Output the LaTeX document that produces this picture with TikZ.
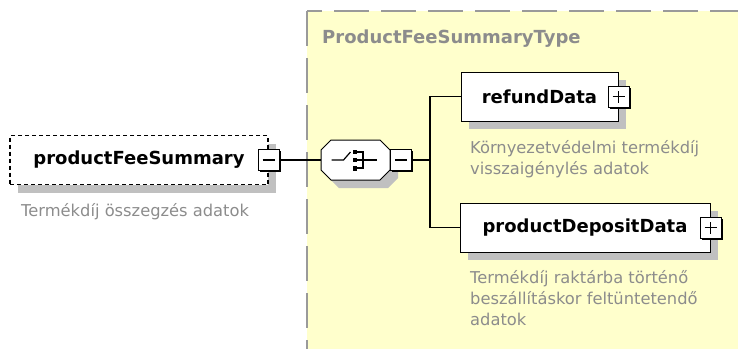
\documentclass[tikz,border=0pt]{standalone}
\usepackage{fontspec}
\setmainfont{DejaVu Sans}
\usetikzlibrary{positioning,shadows}

\definecolor{typefill}{HTML}{FFFFCC}
\definecolor{typeline}{HTML}{9A9A9A}
\definecolor{shadowgray}{HTML}{C0C0C0}
\definecolor{desctext}{HTML}{8C8C8C}

\begin{document}
\begin{tikzpicture}[
    x=1pt, y=-1pt,
    elem/.style={draw, fill=white, line width=1pt, minimum height=49pt, inner sep=0pt,
        font=\bfseries\fontsize{18}{20}\selectfont,
        drop shadow={shadow xshift=8pt, shadow yshift=-8pt, fill=shadowgray, opacity=1}},
    expander/.style={draw, fill=white, line width=1pt, minimum size=21pt, inner sep=0pt,
        drop shadow={shadow xshift=1.5pt, shadow yshift=-1.5pt, fill=black, opacity=1}},
    desc/.style={anchor=base west, align=left, inner sep=0pt, text=desctext,
        font=\fontsize{16.3}{21}\selectfont},
    conn/.style={line width=1.2pt}
]
\useasboundingbox (0,0) rectangle (738,349);

\fill[typefill] (307,11) rectangle (738,349);
\draw[typeline, line width=2pt, dash pattern=on 35pt off 12pt] (307,11) -- (307,349);
\draw[typeline, line width=2pt, dash pattern=on 35pt off 12pt, dash phase=20pt] (307,11) -- (738,11);
\node[anchor=base west, inner sep=0pt, text=desctext, font=\bfseries\fontsize{18}{20}\selectfont]
    (title) at (322,43) {ProductFeeSummaryType};

\node[elem, line width=1.3pt, dash pattern=on 4pt off 3pt, minimum width=258pt] (fee) at (139,160) {productFeeSummary};
\node[desc] (feedesc) at (21,216) {Termékdíj összegzés adatok};
\node[expander] (m0) at (fee.east) {};
\draw[conn] ([xshift=-6pt]m0.center) -- ([xshift=6pt]m0.center);

\node[minimum width=69pt, minimum height=40pt, inner sep=0pt] (seq) at (355.5,160) {};
\begin{scope}[shift={(seq.center)}, line width=1.2pt]
\fill[shadowgray, xshift=8pt, yshift=-8pt] (-34.5,-10) -- (-24.5,-20) -- (24.5,-20) -- (34.5,-10)
    -- (34.5,10) -- (24.5,20) -- (-24.5,20) -- (-34.5,10) -- cycle;
\filldraw[fill=white, line width=1pt] (-34.5,-10) -- (-24.5,-20) -- (24.5,-20) -- (34.5,-10)
    -- (34.5,10) -- (24.5,20) -- (-24.5,20) -- (-34.5,10) -- cycle;
\draw (-24,0) -- (-12,0) -- (-5,-8);
\fill (-3,-10.5) rectangle (1.5,-6);
\fill (-3,-2.25) rectangle (1.5,2.25);
\fill (-3,6) rectangle (1.5,10.5);
\draw (1.5,-8) -- (7.5,-8) -- (7.5,8) -- (1.5,8);
\draw (1.5,0) -- (21.5,0);
\end{scope}
\node[expander, anchor=west] (m1) at (seq.east) {};
\draw[conn] ([xshift=-6pt]m1.center) -- ([xshift=6pt]m1.center);

\coordinate (fork) at (430,160);

\node[elem, minimum width=157pt] (refund) at (539.5,96.5) {refundData};
\node[desc] (refunddesc) at (470,174) {Környezetvédelmi termékdíj\\visszaigénylés adatok};
\node[expander] (p1) at (refund.east) {};
\draw[conn] ([xshift=-6pt]p1.center) -- ([xshift=6pt]p1.center);
\draw[conn] ([yshift=-6pt]p1.center) -- ([yshift=6pt]p1.center);

\node[elem, minimum width=250pt] (deposit) at (585,227.5) {productDepositData};
\node[desc] (depositdesc) at (470,325) {Termékdíj raktárba történő\\beszállításkor feltüntetendő\\adatok};
\node[expander] (p2) at (deposit.east) {};
\draw[conn] ([xshift=-6pt]p2.center) -- ([xshift=6pt]p2.center);
\draw[conn] ([yshift=-6pt]p2.center) -- ([yshift=6pt]p2.center);

\draw[conn] (m0) -- (seq);
\draw[conn] (m1) -- (fork);
\draw[conn] (fork) |- (refund.west);
\draw[conn] (fork) |- (deposit.west);

\end{tikzpicture}
\end{document}
